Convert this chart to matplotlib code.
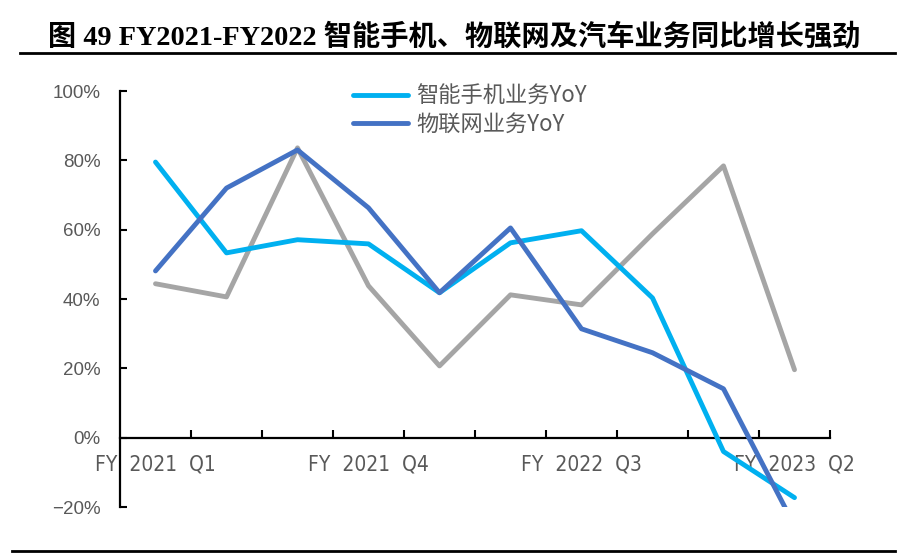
import matplotlib
matplotlib.use('Agg')
import matplotlib.pyplot as plt
from matplotlib.lines import Line2D

categories = ['FY  2021  Q1', 'FY  2021  Q2', 'FY  2021  Q3', 'FY  2021  Q4',
              'FY  2022  Q1', 'FY  2022  Q2', 'FY  2022  Q3', 'FY  2022  Q4',
              'FY  2023  Q1', 'FY  2023  Q2']
phone_yoy = [79.5, 53.3, 57.1, 55.9, 41.8, 56.2, 59.7, 40.3, -4.0, -17.3]
iot_yoy = [48.1, 72.0, 83.0, 66.3, 41.8, 60.5, 31.4, 24.5, 14.1, -25.4]
auto_yoy = [44.4, 40.6, 83.6, 43.8, 20.7, 41.2, 38.3, 58.8, 78.4, 19.6]
series_names = ['智能手机业务YoY', '物联网业务YoY', '汽车业务YoY']
yticks = [-20, 0, 20, 40, 60, 80, 100]

text_grey = '#595959'
cjk = ['Noto Sans CJK SC', 'DejaVu Sans']

fig = plt.figure(figsize=(9.08, 5.57), dpi=100)
ax = fig.add_axes([120 / 908, 1 - 507 / 557, 710 / 908, 416 / 557])

x = list(range(len(categories)))
l1, = ax.plot(x, phone_yoy, color='#00B0F0', lw=3.5, solid_capstyle='round', zorder=3)
l2, = ax.plot(x, iot_yoy, color='#4472C4', lw=3.5, solid_capstyle='round', zorder=3)
l3, = ax.plot(x, auto_yoy, color='#A5A5A5', lw=3.5, solid_capstyle='round', zorder=2)

ax.set_xlim(-0.5, 9.5)
ax.set_ylim(-20, 100)

# y axis
ax.set_yticks(yticks)
ax.set_yticklabels(['\u221220%' if v < 0 else f'{v}%' for v in yticks],
                   fontfamily='Liberation Sans', fontsize=13.5, color=text_grey)
ax.tick_params(axis='y', direction='in', length=5, width=1.5, pad=14)

# x axis sits on 0, ticks between categories
ax.spines['bottom'].set_position(('data', 0))
ax.set_xticks(x[::3])
ax.set_xticklabels(categories[::3], fontfamily='DejaVu Sans', fontstretch='condensed',
                   fontsize=15, color=text_grey)
ax.tick_params(axis='x', length=0, pad=12)
ax.set_xticks([i + 0.5 for i in x], minor=True)
ax.tick_params(axis='x', which='minor', direction='in', length=6, width=1.5)

for s in ['top', 'right']:
    ax.spines[s].set_visible(False)
for s in ['left', 'bottom']:
    ax.spines[s].set_linewidth(1.6)

leg = ax.legend([l1, l2], series_names[:2], loc='upper left',
                bbox_to_anchor=(0.3155, 1.036), borderaxespad=0, frameon=False,
                handlelength=2.5, handletextpad=0.35, labelspacing=0.2,
                prop={'family': cjk, 'size': 16})
for t in leg.get_texts():
    t.set_color(text_grey)

fig.text(0.5, 1 - 37 / 557, '图 49 FY2021-FY2022 智能手机、物联网及汽车业务同比增长强劲',
         ha='center', va='center', fontsize=20.3, fontweight='bold',
         family=['Liberation Serif', 'Noto Sans CJK SC'])
fig.add_artist(Line2D([20 / 908, 895 / 908], [1 - 53 / 557] * 2, color='black', lw=2))
fig.add_artist(Line2D([12 / 908, 895 / 908], [1 - 551 / 557] * 2, color='black', lw=2))

fig.savefig('out.png', dpi=100)
